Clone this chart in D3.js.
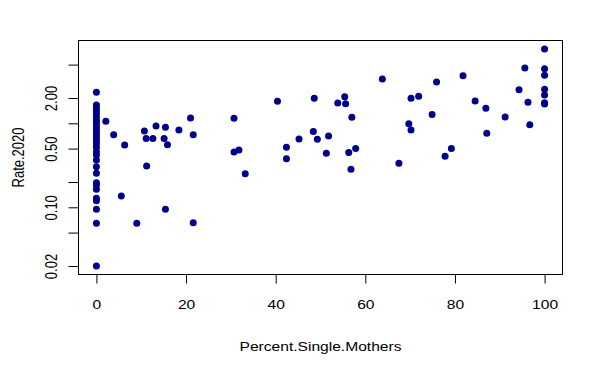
<!DOCTYPE html>
<html>
<head>
<meta charset="UTF-8">
<script src="https://d3js.org/d3.v7.min.js"></script>
<style>
  body { margin: 0; background: #fff; }
  text { font-family: "Liberation Sans", Arial, sans-serif; font-size: 13px; fill: #000; }
</style>
</head>
<body>
<svg id="vis" width="604" height="373"></svg>
<script>
// values
var percentSingleMothers = [
  0,0,0,0,0,0,0,0,0,0,0,0,0,0,0,0,0,0,0,0,0,0,0,0,0,0,0,0,0,
  2.1,3.85,6.3,5.55,9.0,10.7,11.1,11.2,12.6,13.3,15.1,15.4,15.85,15.4,18.4,21.0,21.6,21.6,
  30.7,30.7,31.8,33.2,
  40.4,42.4,42.4,45.2,48.4,48.6,49.3,51.3,51.8,53.85,55.4,55.6,56.3,57.0,56.8,57.85,
  63.8,67.5,69.7,70.2,70.2,71.9,74.9,75.9,77.8,79.2,81.8,84.5,86.9,87.1,91.2,
  94.3,95.6,96.3,96.7,100,100,100,100,100,100,100
];
var rate2020 = [
  2.34,1.65,1.52,1.40,1.29,1.19,1.09,1.01,0.93,0.855,0.79,0.73,0.67,0.615,0.57,0.52,0.46,0.42,0.366,0.304,0.254,0.196,0.184,0.164,0.128,0.12,0.095,0.0645,0.02,
  1.06,0.73,0.55,0.136,0.0645,0.81,0.66,0.31,0.66,0.93,0.66,0.90,0.556,0.095,0.83,1.16,0.73,0.0656,
  1.15,0.455,0.48,0.251,
  1.83,0.518,0.379,0.65,0.80,1.99,0.645,0.44,0.706,1.75,2.07,1.71,0.45,1.18,0.283,0.50,
  3.37,0.334,0.99,0.83,1.99,2.10,1.27,3.10,0.405,0.50,3.69,1.84,1.51,0.76,1.19,
  2.51,4.55,1.78,0.96,7.67,4.47,3.73,2.54,2.17,1.76,1.70
];
var xTicks = [0, 20, 40, 60, 80, 100];
var yTicks = [0.02, 0.05, 0.1, 0.2, 0.5, 1, 2, 5];
var yLabels = {0.02: "0.02", 0.1: "0.10", 0.5: "0.50", 2: "2.00"};

var svg = d3.select("#vis");

var x = d3.scaleLinear().domain([-4, 104]).range([78.5, 562.5]);
var y = d3.scaleLog().domain([0.01585, 9.68]).range([274.5, 40.5]);

// x axis
var gx = svg.append("g").attr("transform", "translate(0,274.5)")
  .call(d3.axisBottom(x).tickValues(xTicks).tickSize(9).tickSizeOuter(0));
gx.select(".domain").remove();
gx.append("line").attr("x1", x(0)).attr("x2", x(100)).attr("stroke", "#000");
gx.selectAll("text").attr("y", 0).attr("dy", 0)
  .attr("transform", "translate(0,34.8) scale(1.2,1)")
  .attr("fill", "#000").style("font-size", "13px").style("font-family", "Liberation Sans");

// y axis
var gy = svg.append("g").attr("transform", "translate(78.5,0)")
  .call(d3.axisLeft(y).tickValues(yTicks).tickSize(10).tickSizeOuter(0)
    .tickFormat(function(d){ return yLabels[d] || ""; }));
gy.select(".domain").remove();
gy.append("line").attr("y1", y(0.02)).attr("y2", y(5)).attr("stroke", "#000");
gy.selectAll("text").attr("x", 0).attr("dy", 0)
  .attr("y", 0)
  .attr("text-anchor", "middle")
  .attr("transform", "translate(-21.6,0) scale(1.2,1) rotate(-90)")
  .attr("fill", "#000").style("font-size", "13px").style("font-family", "Liberation Sans");

// box
svg.append("rect").attr("x", 78.5).attr("y", 40.5).attr("width", 484).attr("height", 234)
  .attr("fill", "none").attr("stroke", "#000");

// points
svg.append("g").selectAll("circle")
  .data(percentSingleMothers)
  .join("circle")
  .attr("cx", function(d){ return x(d); })
  .attr("cy", function(d, i){ return y(rate2020[i]); })
  .attr("r", 3.5)
  .attr("fill", "#00008B");

// axis titles
svg.append("text").attr("text-anchor", "middle")
  .attr("transform", "translate(320.5,351) scale(1.2,1)")
  .text("Percent.Single.Mothers");
svg.append("text").attr("text-anchor", "middle")
  .attr("transform", "translate(24,157.5) scale(1.2,1) rotate(-90)")
  .text("Rate.2020");
</script>
</body>
</html>
